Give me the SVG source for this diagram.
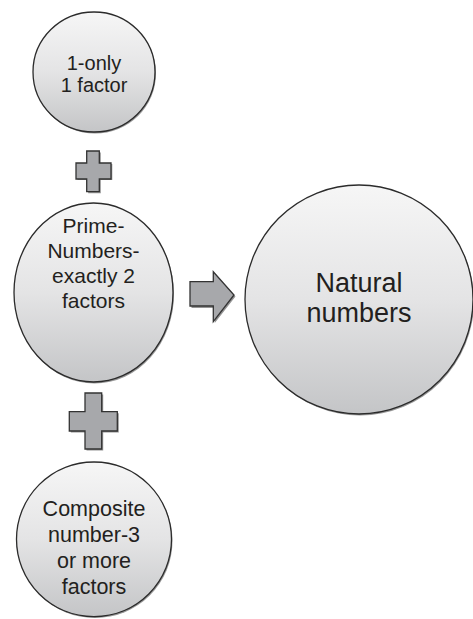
<svg xmlns="http://www.w3.org/2000/svg" width="473" height="619" viewBox="0 0 473 619">
<defs>
<linearGradient id="g" x1="0" y1="0" x2="0" y2="1">
<stop offset="0" stop-color="#f6f6f6"/>
<stop offset="0.5" stop-color="#e4e4e5"/>
<stop offset="1" stop-color="#c4c5c7"/>
</linearGradient>
<style>
.node{fill:url(#g);stroke:#2b2b2b;stroke-width:1.3}
.sh{fill:#6a6a6a;stroke:none;opacity:0.7}
.op{fill:#a7a8ab;stroke:#333;stroke-width:1.3;stroke-linejoin:miter}
.ops{fill:#666;stroke:none;opacity:0.7}
text{font-family:"Liberation Sans",Arial,sans-serif;fill:#231f20;text-anchor:middle}
</style>
</defs>
<rect width="473" height="619" fill="#fff"/>
<g id="connectors">
<path class="ops" d="M88.2,152.5h12.6v11.5h11.5v16h-11.5v13.2h-12.6v-13.2h-10.7v-16h10.7z"/>
<path class="op" d="M86.7,151h12.6v12h11.7v16h-11.7v12.7h-12.6v-12.7h-10.7v-16h10.7z"/>
<path class="ops" d="M86.5,394.5h16.7v18.7h15.6v19.3h-15.6v18h-16.7v-18h-15.7v-19.3h15.7z"/>
<path class="op" d="M85,393h16.7v18.7h15.6v19.3h-15.6v18h-16.7v-18h-15.7v-19.3h15.7z"/>
<path class="ops" d="M191.5,283.2h23.3v-10l20.7,23.3l-20.7,26.5v-15h-23.3z"/>
<path class="op" d="M190,281.7h23.3v-10l20.7,23.3l-20.7,26.7v-15.7h-23.3z"/>
</g>
<g id="n1">
<ellipse class="sh" cx="95" cy="73.5" rx="61" ry="60"/>
<ellipse class="node" cx="94" cy="72" rx="61" ry="60"/>
<text x="94" y="70" font-size="20">1-only</text>
<text x="94" y="92" font-size="20">1 factor</text>
</g>
<g id="n2">
<ellipse class="sh" cx="94.5" cy="294" rx="79.5" ry="89.5"/>
<ellipse class="node" cx="93.5" cy="292.5" rx="79.5" ry="89.5"/>
<text x="93.5" y="233" font-size="21">Prime-</text>
<text x="93.5" y="258" font-size="21">Numbers-</text>
<text x="93.5" y="283" font-size="21">exactly 2</text>
<text x="93.5" y="308" font-size="21">factors</text>
</g>
<g id="n3">
<ellipse class="sh" cx="360" cy="301" rx="114" ry="114.5"/>
<ellipse class="node" cx="359" cy="299.5" rx="114" ry="114.5"/>
<text x="359" y="292" font-size="27">Natural</text>
<text x="359" y="322" font-size="27">numbers</text>
</g>
<g id="n4">
<ellipse class="sh" cx="95" cy="540.8" rx="77.5" ry="77.3"/>
<ellipse class="node" cx="94" cy="539.3" rx="77.5" ry="77.3"/>
<text x="94" y="516" font-size="21.5">Composite</text>
<text x="94" y="542" font-size="21.5">number-3</text>
<text x="94" y="568" font-size="21.5">or more</text>
<text x="94" y="594" font-size="21.5">factors</text>
</g>
</svg>
